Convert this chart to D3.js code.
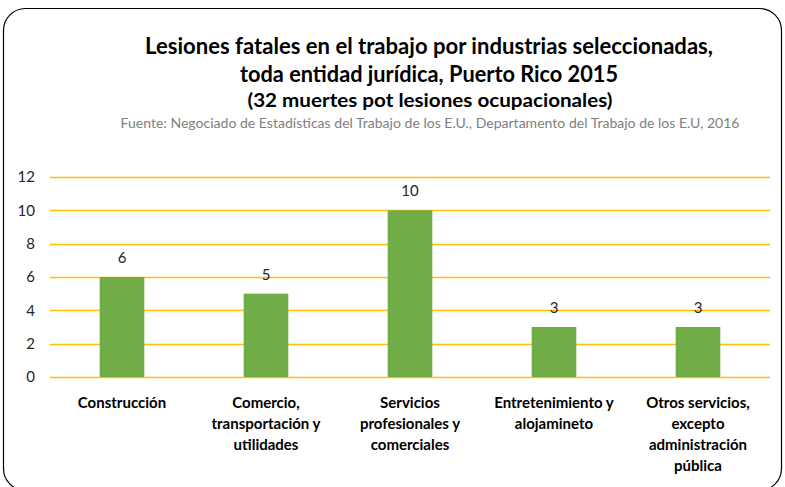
<!DOCTYPE html>
<html>
<head>
<meta charset="utf-8">
<script src="https://cdn.jsdelivr.net/npm/d3@7"></script>
<style>
  body { margin: 0; background: #fff; }
  svg { font-family: Lato, "Open Sans", sans-serif; }
</style>
</head>
<body>
<div id="chart"></div>
<script>
// Chart data
const categories = [
  ['Construcción'],
  ['Comercio,', 'transportación y', 'utilidades'],
  ['Servicios', 'profesionales y', 'comerciales'],
  ['Entretenimiento y', 'alojamineto'],
  ['Otros servicios,', 'excepto', 'administración', 'pública']
];
const deaths = [6, 5, 10, 3, 3];
const yTicks = [0, 2, 4, 6, 8, 10, 12];

const titleLines = [
  'Lesiones fatales en el trabajo por industrias seleccionadas,',
  'toda entidad jurídica, Puerto Rico 2015'
];
const subtitle = '(32 muertes pot lesiones ocupacionales)';
const source = 'Fuente: Negociado de Estadísticas del Trabajo de los E.U., Departamento del Trabajo de los E.U, 2016';

// Dimensions
let svgWidth = 785;
let svgHeight = 487;
let margin = { top: 177, right: 15, bottom: 110, left: 50 };
let graphWidth = svgWidth - margin.left - margin.right;
let graphHeight = svgHeight - margin.top - margin.bottom;

let svg = d3.select('#chart')
  .append('svg')
  .attr('width', svgWidth)
  .attr('height', svgHeight);

// Rounded frame
svg.append('rect')
  .attr('x', 3.5)
  .attr('y', 8.5)
  .attr('width', 778)
  .attr('height', 482)
  .attr('rx', 22)
  .style('fill', 'none')
  .style('stroke', '#000')
  .style('stroke-width', 1.2);

// Helper: set text to an exact width (the original uses a narrow font)
function fitText(sel, width) {
  sel.attr('textLength', width).attr('lengthAdjust', 'spacingAndGlyphs');
}

// Titles
let titleWidths = [568, 378];
titleLines.forEach((t, i) => {
  let el = svg.append('text')
    .attr('x', 429)
    .attr('y', 54 + i * 28)
    .attr('text-anchor', 'middle')
    .style('font-size', '22px')
    .style('font-weight', 'bold')
    .style('fill', '#000')
    .text(t);
  fitText(el, titleWidths[i]);
});

let sub = svg.append('text')
  .attr('x', 430)
  .attr('y', 107)
  .attr('text-anchor', 'middle')
  .style('font-size', '19.5px')
  .style('font-weight', 'bold')
  .style('fill', '#000')
  .text(subtitle);
fitText(sub, 365);

let src = svg.append('text')
  .attr('x', 430)
  .attr('y', 128)
  .attr('text-anchor', 'middle')
  .style('font-size', '12.5px')
  .style('fill', '#7f7f7f')
  .text(source);
fitText(src, 619);

let g = svg.append('g')
  .attr('transform', 'translate(' + margin.left + ',' + margin.top + ')');

// Scales
let x = d3.scaleBand()
  .domain(d3.range(deaths.length))
  .range([0, graphWidth])
  .paddingInner(0.69)
  .paddingOuter(0.345);
let y = d3.scaleLinear()
  .domain([0, 12])
  .range([graphHeight, 0]);

// Gridlines
g.selectAll('.grid')
  .data(yTicks)
  .enter().append('line')
  .attr('x1', 0)
  .attr('x2', graphWidth)
  .attr('y1', (d) => Math.round(y(d)) + 0.5)
  .attr('y2', (d) => Math.round(y(d)) + 0.5)
  .style('stroke', '#ffc000')
  .style('stroke-width', 1.3);

// Y axis labels
let yAxis = g.append('g')
  .call(d3.axisLeft(y).tickValues(yTicks).tickSize(0).tickPadding(15));
yAxis.select('.domain').remove();
yAxis.selectAll('text')
  .style('font-family', 'Lato, sans-serif')
  .style('font-size', '15px')
  .style('fill', '#262626');

// Bars
g.selectAll('.bar')
  .data(deaths)
  .enter().append('rect')
  .attr('x', (d, i) => x(i))
  .attr('y', (d) => y(d))
  .attr('width', x.bandwidth())
  .attr('height', (d) => graphHeight - y(d))
  .style('fill', '#70ad47');

// Value labels
g.selectAll('.val')
  .data(deaths)
  .enter().append('text')
  .attr('x', (d, i) => x(i) + x.bandwidth() / 2)
  .attr('y', (d) => y(d) - 14)
  .attr('text-anchor', 'middle')
  .style('font-size', '15px')
  .style('fill', '#262626')
  .text((d) => d);

// Category labels
categories.forEach((lines, i) => {
  let t = g.append('text')
    .attr('text-anchor', 'middle')
    .style('font-size', '15px')
    .style('font-weight', 'bold')
    .style('fill', '#000');
  lines.forEach((l, j) => {
    t.append('tspan')
      .attr('x', x(i) + x.bandwidth() / 2)
      .attr('y', graphHeight + 31 + j * 21)
      .text(l);
  });
});
</script>
</body>
</html>
